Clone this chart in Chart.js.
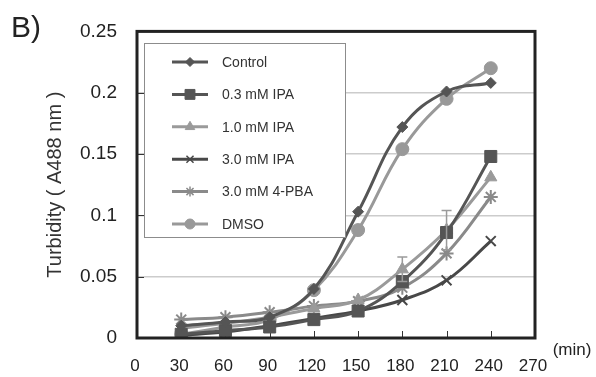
<!DOCTYPE html>
<html>
<head>
<meta charset="utf-8">
<script src="https://cdn.jsdelivr.net/npm/chart.js@4/dist/chart.umd.min.js"></script>
<style>
  html, body { margin: 0; padding: 0; background: #fff; }
  #wrap { width: 596px; height: 377px; }
</style>
</head>
<body>
<div id="wrap"><canvas id="turbidity" width="596" height="377"></canvas></div>
<script>
// time points (min)
const minutes = [30, 60, 90, 120, 150, 180, 210, 240];
const xTicks = [0, 30, 60, 90, 120, 150, 180, 210, 240, 270];
const yTicks = [0, 0.05, 0.1, 0.15, 0.2, 0.25];

const seriesNames = ['Control', '0.3 mM IPA', '1.0 mM IPA', '3.0 mM IPA', '3.0 mM 4-PBA', 'DMSO'];
const control = [0.010, 0.013, 0.017, 0.040, 0.103, 0.172, 0.201, 0.208];
const ipa03   = [0.003, 0.006, 0.009, 0.015, 0.022, 0.046, 0.086, 0.148];
const ipa10   = [0.008, 0.012, 0.017, 0.024, 0.031, 0.056, 0.088, 0.131];
const ipa30   = [0.002, 0.005, 0.010, 0.016, 0.022, 0.031, 0.047, 0.079];
const pba     = [0.015, 0.017, 0.021, 0.026, 0.030, 0.041, 0.069, 0.115];
const dmso    = [0.003, 0.009, 0.015, 0.039, 0.088, 0.154, 0.195, 0.220];
// error bars (only visible ones)
const ipa10Err = [0, 0, 0, 0, 0, 0.010, 0.016, 0];

const FONT = '"Liberation Sans", Arial, sans-serif';

const styles = [
  { color: '#555555', pointStyle: 'rectRot',  radius: 5.5, legendRadius: 4.5 },
  { color: '#555555', pointStyle: 'rect',     radius: 8.5, legendRadius: 7 },
  { color: '#9a9a9a', pointStyle: 'triangle', radius: 7,   legendRadius: 5.5 },
  { color: '#484848', pointStyle: 'crossRot', radius: 7,   legendRadius: 5 },
  { color: '#8a8a8a', pointStyle: 'star',     radius: 7,   legendRadius: 5 },
  { color: '#999999', pointStyle: 'circle',   radius: 6.5, legendRadius: 5 }
];
const values = [control, ipa03, ipa10, ipa30, pba, dmso];

const toPoints = arr => minutes.map((m, i) => ({ x: m, y: arr[i] }));

const datasets = values.map((arr, i) => ({
  label: seriesNames[i],
  data: toPoints(arr),
  showLine: true,
  tension: 0.4,
  borderColor: styles[i].color,
  backgroundColor: styles[i].color,
  borderWidth: 3,
  pointStyle: styles[i].pointStyle,
  pointRadius: styles[i].radius,
  pointBorderWidth: (styles[i].pointStyle === 'crossRot' || styles[i].pointStyle === 'star') ? 2 : 1,
  pointBorderColor: styles[i].color,
  pointBackgroundColor: styles[i].color,
  errors: i === 2 ? ipa10Err : null
}));

const decorations = {
  id: 'decorations',
  beforeDatasetsDraw(chart) {
    const { ctx, chartArea: a, scales } = chart;
    ctx.save();
    // inward tick marks
    ctx.strokeStyle = '#333';
    ctx.lineWidth = 1;
    minutes.forEach(m => {
      const x = Math.round(scales.x.getPixelForValue(m)) + 0.5;
      ctx.beginPath();
      ctx.moveTo(x, a.bottom);
      ctx.lineTo(x, a.bottom - 7);
      ctx.stroke();
    });
    yTicks.forEach(v => {
      const y = Math.round(scales.y.getPixelForValue(v)) + 0.5;
      ctx.beginPath();
      ctx.moveTo(a.left, y);
      ctx.lineTo(a.left + 7, y);
      ctx.stroke();
    });
    ctx.restore();
  },
  afterDatasetsDraw(chart) {
    const { ctx, scales } = chart;
    ctx.save();
    chart.data.datasets.forEach(ds => {
      if (!ds.errors) return;
      ctx.strokeStyle = ds.borderColor;
      ctx.lineWidth = 1.5;
      ds.data.forEach((p, i) => {
        const e = ds.errors[i];
        if (!e) return;
        const x = scales.x.getPixelForValue(p.x);
        const yTop = scales.y.getPixelForValue(p.y + e);
        const yBot = scales.y.getPixelForValue(p.y - e);
        ctx.beginPath();
        ctx.moveTo(x, yTop); ctx.lineTo(x, yBot);
        ctx.moveTo(x - 5, yTop); ctx.lineTo(x + 5, yTop);
        ctx.moveTo(x - 5, yBot); ctx.lineTo(x + 5, yBot);
        ctx.stroke();
      });
    });
    ctx.restore();
  },
  afterDraw(chart) {
    const { ctx, chartArea: a } = chart;
    ctx.save();
    // plot frame
    ctx.strokeStyle = '#222';
    ctx.lineWidth = 3;
    ctx.strokeRect(a.left, a.top, a.right - a.left, a.bottom - a.top);

    // legend box
    const lx = 144, ly = 43, lw = 201, lh = 194;
    ctx.fillStyle = '#fff';
    ctx.fillRect(lx, ly, lw, lh);
    ctx.strokeStyle = '#8c8c8c';
    ctx.lineWidth = 1;
    ctx.strokeRect(lx + 0.5, ly + 0.5, lw, lh);
    ctx.font = '14px ' + FONT;
    ctx.textBaseline = 'middle';
    ctx.textAlign = 'left';
    seriesNames.forEach((name, i) => {
      const y = 62 + i * 32.4;
      const st = styles[i];
      ctx.strokeStyle = st.color;
      ctx.fillStyle = st.color;
      ctx.lineWidth = 3;
      ctx.beginPath();
      ctx.moveTo(172, y); ctx.lineTo(208, y);
      ctx.stroke();
      ctx.lineWidth = (st.pointStyle === 'crossRot' || st.pointStyle === 'star') ? 1.5 : 1;
      Chart.helpers.drawPoint(ctx, { pointStyle: st.pointStyle, radius: st.legendRadius, rotation: 0, borderWidth: ctx.lineWidth }, 190, y);
      ctx.fillStyle = '#333';
      ctx.fillText(name, 222, y + 1);
    });

    // panel label and unit
    ctx.fillStyle = '#222';
    ctx.font = '30px ' + FONT;
    ctx.textBaseline = 'alphabetic';
    ctx.fillText('B)', 11, 37);
    ctx.font = '17px ' + FONT;
    ctx.textAlign = 'center';
    ctx.textBaseline = 'middle';
    ctx.fillText('(min)', 572, 350);
    ctx.restore();
  }
};

new Chart(document.getElementById('turbidity').getContext('2d'), {
  type: 'scatter',
  data: { datasets },
  options: {
    responsive: false,
    animation: false,
    layout: { padding: { left: 0, right: 61, top: 30, bottom: 0 } },
    plugins: {
      legend: { display: false },
      tooltip: { enabled: false }
    },
    scales: {
      x: {
        type: 'linear',
        min: 0,
        max: 270,
        afterBuildTicks: s => { s.ticks = xTicks.map(v => ({ value: v })); },
        afterFit: s => { s.height = 39; },
        grid: { display: false, drawTicks: false },
        border: { display: false },
        ticks: {
          color: '#222',
          font: { family: FONT, size: 17 },
          padding: 18,
          labelOffset: -2,
          maxRotation: 0,
          autoSkip: false
        }
      },
      y: {
        min: 0,
        max: 0.25,
        afterBuildTicks: s => { s.ticks = yTicks.map(v => ({ value: v })); },
        afterFit: s => { s.width = 137; },
        grid: {
          color: ctx => (ctx.tick && ctx.tick.value > 0 && ctx.tick.value < 0.25) ? '#cccccc' : 'rgba(0,0,0,0)',
          lineWidth: 1.5,
          drawTicks: false
        },
        border: { display: false },
        ticks: {
          color: '#222',
          font: { family: FONT, size: 19 },
          padding: 20,
          callback: v => String(+v.toFixed(2))
        },
        title: {
          display: true,
          text: 'Turbidity ( A488 nm )',
          color: '#333',
          font: { family: FONT, size: 20 },
          padding: { top: 43, bottom: 0 }
        }
      }
    }
  },
  plugins: [decorations]
});
</script>
</body>
</html>
